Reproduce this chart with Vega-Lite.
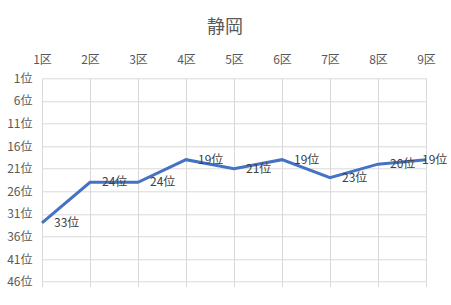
{
  "$schema": "https://vega.github.io/schema/vega-lite/v6.json",
  "width": 384,
  "height": 203.4,
  "autosize": "none",
  "padding": {"left": 42, "top": 78.3, "right": 25, "bottom": 23.3},
  "background": "white",
  "title": {"text": "静岡", "fontSize": 18, "font": "Noto Sans CJK JP", "fontWeight": "normal", "color": "#595959", "anchor": "middle", "dx": -9, "offset": 16},
  "config": {
    "view": {"stroke": null},
    "font": "Noto Sans CJK JP"
  },
  "data": {
    "values": [
      {"district": "1区", "rank": 33, "label": "33位"},
      {"district": "2区", "rank": 24, "label": "24位"},
      {"district": "3区", "rank": 24, "label": "24位"},
      {"district": "4区", "rank": 19, "label": "19位"},
      {"district": "5区", "rank": 21, "label": "21位"},
      {"district": "6区", "rank": 19, "label": "19位"},
      {"district": "7区", "rank": 23, "label": "23位"},
      {"district": "8区", "rank": 20, "label": "20位"},
      {"district": "9区", "rank": 19, "label": "19位"}
    ]
  },
  "layer": [
    {
      "mark": {"type": "line", "color": "#4472C4", "strokeWidth": 3},
      "encoding": {
        "x": {"field": "district", "type": "ordinal", "sort": null, "scale": {"type": "point", "padding": 0},
          "axis": {"orient": "top", "title": null, "labelAngle": 0, "labelFontSize": 12, "labelColor": "#595959", "labelPadding": 12, "ticks": false, "domain": false, "grid": true, "gridColor": "#D9D9D9", "gridWidth": 1}},
        "y": {"field": "rank", "type": "quantitative", "scale": {"domain": [1, 46], "reverse": true, "nice": false, "zero": false},
          "axis": {"title": null, "values": [1, 6, 11, 16, 21, 26, 31, 36, 41, 46], "labelExpr": "datum.value + '位'", "labelOverlap": false, "labelFontSize": 12, "labelColor": "#595959", "labelPadding": 10, "ticks": false, "domain": false, "grid": true, "gridColor": "#D9D9D9", "gridWidth": 1}}
      }
    },
    {
      "mark": {"type": "point", "opacity": 0},
      "encoding": {
        "x": {"field": "district", "type": "ordinal", "sort": null, "scale": {"type": "point", "padding": 0},
          "axis": {"orient": "bottom", "title": null, "labels": false, "ticks": true, "tickSize": 5, "tickColor": "#D9D9D9", "domain": false, "grid": false}},
        "y": {"field": "rank", "type": "quantitative", "axis": null}
      }
    },
    {
      "transform": [{"filter": "datum.district != '9区'"}],
      "mark": {"type": "text", "align": "left", "baseline": "middle", "dx": 12, "fontSize": 12, "color": "#404040"},
      "encoding": {
        "x": {"field": "district", "type": "ordinal", "sort": null, "axis": null},
        "y": {"field": "rank", "type": "quantitative", "axis": null},
        "text": {"field": "label"}
      }
    },
    {
      "transform": [{"filter": "datum.district == '9区'"}],
      "mark": {"type": "text", "align": "left", "baseline": "middle", "dx": -4, "fontSize": 12, "color": "#404040"},
      "encoding": {
        "x": {"field": "district", "type": "ordinal", "sort": null, "axis": null},
        "y": {"field": "rank", "type": "quantitative", "axis": null},
        "text": {"field": "label"}
      }
    }
  ],
  "resolve": {"axis": {"x": "independent", "y": "independent"}}
}
